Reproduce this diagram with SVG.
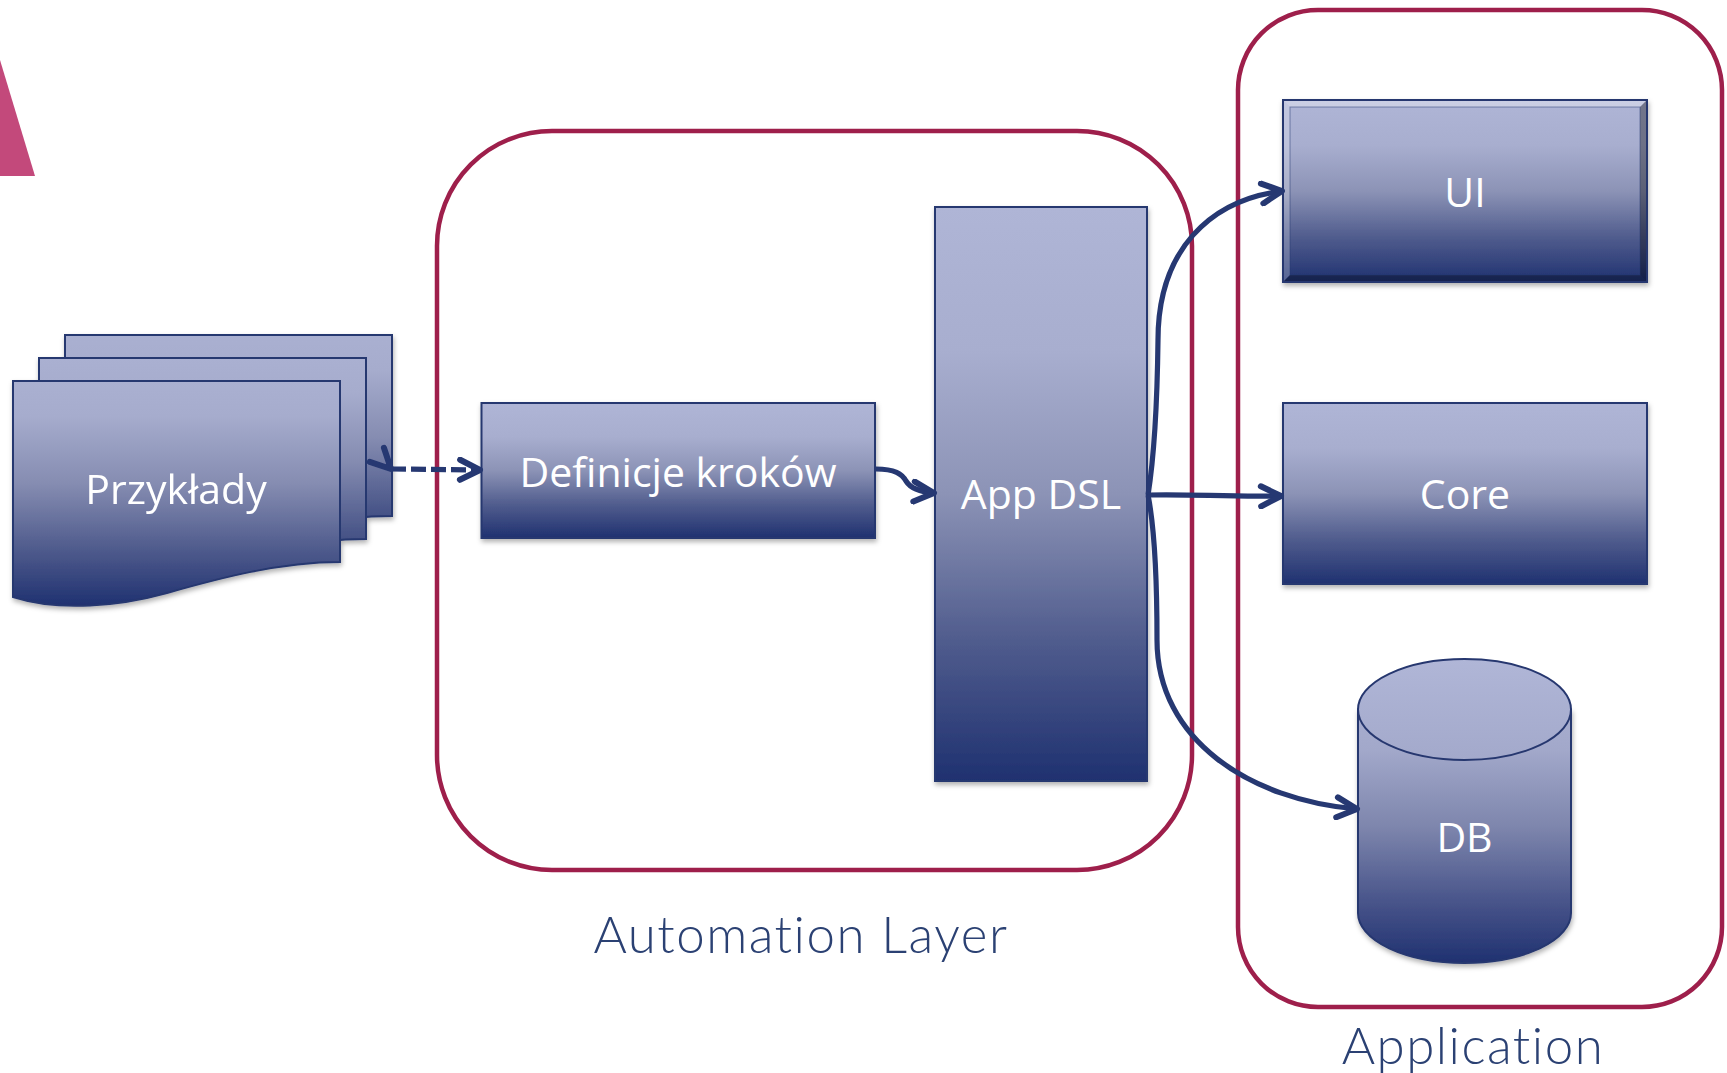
<svg xmlns="http://www.w3.org/2000/svg" width="1727" height="1073" viewBox="0 0 1727 1073">
  <style>
    .node-label { font-family: "Open Sans", "Noto Sans", "Liberation Sans", sans-serif; font-size: 41px; fill: #ffffff; text-anchor: middle; }
    .group-label { font-family: "Lato", "Roboto", "Liberation Sans", sans-serif; font-weight: 300; font-size: 51px; letter-spacing: 1.5px; font-variant-ligatures: none; fill: #2b4173; text-anchor: middle; }
    .frame { fill: none; stroke: #9e1f4b; stroke-width: 4.5; }
    .box { stroke: #26376f; stroke-width: 2; }
    .conn { fill: none; stroke: #263872; stroke-width: 5.2; }
  </style>
  <defs>
    <linearGradient id="gBox" x1="0" y1="0" x2="0" y2="1">
      <stop offset="0" stop-color="#afb5d6"/>
      <stop offset="0.25" stop-color="#a8aecf"/>
      <stop offset="0.5" stop-color="#8c93b6"/>
      <stop offset="0.75" stop-color="#515d8e"/>
      <stop offset="1" stop-color="#1f3170"/>
    </linearGradient>
    <linearGradient id="gDocs" gradientUnits="userSpaceOnUse" x1="0" y1="335" x2="0" y2="606">
      <stop offset="0" stop-color="#afb5d6"/>
      <stop offset="0.3" stop-color="#a6accd"/>
      <stop offset="0.55" stop-color="#858cb1"/>
      <stop offset="0.8" stop-color="#4d598b"/>
      <stop offset="1" stop-color="#1f3170"/>
    </linearGradient>
    <linearGradient id="gCyl" gradientUnits="userSpaceOnUse" x1="0" y1="659" x2="0" y2="963">
      <stop offset="0" stop-color="#afb5d6"/>
      <stop offset="0.3" stop-color="#a2a8ca"/>
      <stop offset="0.55" stop-color="#7e86ad"/>
      <stop offset="0.8" stop-color="#48548a"/>
      <stop offset="1" stop-color="#1f3170"/>
    </linearGradient>
    <linearGradient id="gTop" x1="0" y1="0" x2="0" y2="1">
      <stop offset="0" stop-color="#b0b6d7"/>
      <stop offset="1" stop-color="#a3a9cb"/>
    </linearGradient>
    <filter id="shadow" x="-10%" y="-10%" width="120%" height="125%">
      <feDropShadow dx="1" dy="3" stdDeviation="2.5" flood-color="#000000" flood-opacity="0.3"/>
    </filter>
    <marker id="arrow" viewBox="-24 -13 28 26" refX="0" refY="0" markerWidth="28" markerHeight="26" markerUnits="userSpaceOnUse" orient="auto">
      <path d="M-20,-10 L0,0 L-20,10" fill="none" stroke="#263872" stroke-width="6" stroke-linecap="round" stroke-linejoin="round" stroke-dasharray="none"/>
    </marker>
    <marker id="arrowStart" viewBox="-24 -13 28 26" refX="0" refY="0" markerWidth="28" markerHeight="26" markerUnits="userSpaceOnUse" orient="45">
      <path d="M-20,-10 L0,0 L-20,10" fill="none" stroke="#263872" stroke-width="6" stroke-linecap="round" stroke-linejoin="round" stroke-dasharray="none"/>
    </marker>
  </defs>

  <rect width="1727" height="1073" fill="#ffffff"/>

  <polygon points="0,60 35,176 0,176" fill="#c3497b"/>

  <g id="automation-layer">
    <rect class="frame" x="437" y="131" width="755" height="739" rx="115" ry="115"/>
    <text class="group-label" x="801" y="953">Automation Layer</text>
  </g>

  <g id="application">
    <rect class="frame" x="1238" y="10" width="484" height="997" rx="80" ry="80"/>
    <text class="group-label" x="1473" y="1064">Application</text>
  </g>

  <g id="przyklady" filter="url(#shadow)">
    <path class="box" fill="url(#gDocs)" transform="translate(52,-46)" d="M13,381 H340 V562 C280,562 220,578 167,593 C120,606 60,612 13,597 Z"/>
    <path class="box" fill="url(#gDocs)" transform="translate(26,-23)" d="M13,381 H340 V562 C280,562 220,578 167,593 C120,606 60,612 13,597 Z"/>
    <path class="box" fill="url(#gDocs)" d="M13,381 H340 V562 C280,562 220,578 167,593 C120,606 60,612 13,597 Z"/>
    <text class="node-label" x="176" y="504">Przykłady</text>
  </g>

  <g id="definicje-krokow">
    <rect class="box" x="481.5" y="403" width="393.5" height="135" fill="url(#gBox)" filter="url(#shadow)"/>
    <text class="node-label" x="678" y="487">Definicje kroków</text>
  </g>

  <g id="app-dsl">
    <rect class="box" x="935" y="207" width="212" height="574" fill="url(#gBox)" filter="url(#shadow)"/>
    <text class="node-label" x="1041" y="509">App DSL</text>
  </g>

  <g id="ui">
    <g filter="url(#shadow)">
      <rect class="box" x="1283" y="100" width="364" height="182" fill="url(#gBox)"/>
    </g>
    <polygon points="1283,100 1647,100 1640,107 1290,107" fill="#ffffff" fill-opacity="0.35"/>
    <polygon points="1283,100 1290,107 1290,275 1283,282" fill="#ffffff" fill-opacity="0.25"/>
    <polygon points="1647,100 1647,282 1640,275 1640,107" fill="#000000" fill-opacity="0.35"/>
    <polygon points="1283,282 1647,282 1640,275 1290,275" fill="#000000" fill-opacity="0.3"/>
    <rect x="1290" y="107" width="350" height="168" fill="none" stroke="#26376f" stroke-opacity="0.5" stroke-width="1"/>
    <rect x="1283" y="100" width="364" height="182" fill="none" stroke="#26376f" stroke-width="2"/>
    <text class="node-label" x="1465" y="207">UI</text>
  </g>

  <g id="core">
    <rect class="box" x="1283" y="403" width="364" height="181" fill="url(#gBox)" filter="url(#shadow)"/>
    <text class="node-label" x="1465" y="509">Core</text>
  </g>

  <g id="db">
    <g filter="url(#shadow)">
      <path class="box" fill="url(#gCyl)" d="M1358,709.5 L1358,913 A106.5,50 0 0 0 1571,913 L1571,709.5 Z"/>
    </g>
    <ellipse class="box" cx="1464.5" cy="709.5" rx="106.5" ry="50.5" fill="url(#gTop)"/>
    <text class="node-label" x="1464.5" y="852">DB</text>
  </g>

  <g id="connectors">
    <path class="conn" d="M391,469 L480,470" stroke-dasharray="15 5" marker-start="url(#arrowStart)" marker-end="url(#arrow)"/>
    <path class="conn" d="M876,469 C895,469 902,474 906,481 C911,489 920,492 934,493" marker-end="url(#arrow)"/>
    <path class="conn" d="M1148,495 C1152,470 1157,420 1158,340 C1158,250 1210,200 1282,191" marker-end="url(#arrow)"/>
    <path class="conn" d="M1148,495 C1200,494 1220,497 1281,496" marker-end="url(#arrow)"/>
    <path class="conn" d="M1148,495 C1153,520 1157,560 1157,640 C1157,740 1250,800 1357,809" marker-end="url(#arrow)"/>
  </g>
</svg>
